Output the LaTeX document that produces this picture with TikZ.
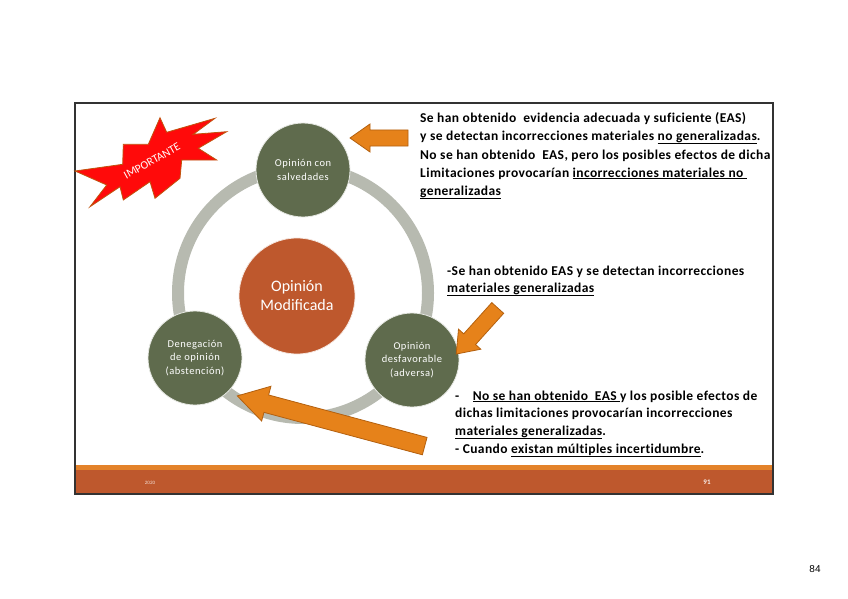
\documentclass[tikz,border=0pt]{standalone}
\usepackage{fontspec}
\setmainfont{Carlito}
\newfontfamily\arialf{Liberation Sans}
\newfontfamily\widef[LetterSpace=3,Ligatures=NoCommon]{Carlito}
\newfontfamily\bubf[LetterSpace=5,Ligatures=NoCommon]{Carlito}
\definecolor{olivec}{HTML}{5F6B4D}
\definecolor{rustc}{HTML}{BE582D}
\definecolor{ringc}{HTML}{B7BAB0}
\definecolor{arrowc}{HTML}{E6821A}
\definecolor{arrowd}{HTML}{B3600F}
\definecolor{footc}{HTML}{BE582D}
\definecolor{footl}{HTML}{E3822A}
\definecolor{starc}{HTML}{FF0A0A}
\definecolor{stard}{HTML}{C0540E}
\tikzset{
  x=1pt, y=-1pt,
  bubble/.style={circle, fill=olivec, draw=white!85!olivec, line width=0.8pt, minimum size=94pt, inner sep=0pt, text=white, align=center, font=\bubf\fontsize{10.5}{13.5}\selectfont},
  bigbubble/.style={circle, fill=rustc, draw=white!85!rustc, line width=0.8pt, minimum size=116pt, inner sep=0pt, text=white, align=center, font=\fontsize{16}{19}\selectfont},
  fatarrow/.style={fill=arrowc, draw=arrowd, line width=0.8pt, line join=miter},
  txt/.style={anchor=base west, inner sep=0pt, font=\widef\fontsize{13.5}{15}\selectfont\bfseries},
}
\begin{document}
\begin{tikzpicture}
\useasboundingbox (0,0) rectangle (848,599);
% slide frame
\fill[footc] (75,466) rectangle (773,494);
\fill[footl] (75,465) rectangle (773,470);
\draw[black!80, line width=1.2pt] (75,103) rectangle (773,494);
% ring
\draw[ringc, line width=12pt] (303,293) circle[radius=125pt];
% bubbles
\node[bubble] (top) at (303,170) {Opinión con\\salvedades};
\node[bigbubble] (mid) at (297,296) {Opinión\\Modificada};
\node[bubble] (left) at (195,358) {Denegación\\de opinión\\(abstención)};
\node[bubble] (right) at (412,360) {Opinión\\desfavorable\\(adversa)};
% starburst
\draw[fill=starc, draw=stard, line width=0.8pt, line join=miter]
 (75,171) -- (122.7,164.3) -- (123.3,144.3) -- (148.3,144.3) -- (160,117.7)
 -- (166.7,132.3) -- (215,118.3) -- (193.3,134.3) -- (226.7,131.7)
 -- (198.3,148.3) -- (216.7,160) -- (181.7,160) -- (180,178.3)
 -- (155,198.3) -- (150,181.7) -- (123.3,200) -- (120,186.7)
 -- (90,206.7) -- (106.7,185) -- cycle;
\node[text=white, rotate=29, font=\fontsize{11.5}{13}\selectfont] (imp) at (152,161) {IMPORTANTE};
% arrows
\draw[fatarrow, shift={(379,138)}, rotate=180]
 (-29,-8) -- (9,-8) -- (9,-14) -- (29,0) -- (9,14) -- (9,8) -- (-29,8) -- cycle;
\draw[fatarrow, shift={(477,331)}, rotate=228]
 (-31,-8) -- (11,-8) -- (11,-15) -- (31,0) -- (11,15) -- (11,8) -- (-31,8) -- cycle;
\draw[fatarrow, shift={(331,421)}, rotate=165]
 (-97,-9) -- (67,-9) -- (67,-18) -- (97,0) -- (67,18) -- (67,9) -- (-97,9) -- cycle;
% texts
\node[txt] (t1) at (420,122) {Se han obtenido\ \ evidencia adecuada y suficiente (EAS)};
\node[txt] (t2) at (420,140) {y se detectan incorrecciones materiales \underline{no generalizadas}.};
\node[txt] (t3) at (420,159) {No se han obtenido\ \ EAS, pero los posibles efectos de dicha};
\node[txt] (t4) at (420,177) {Limitaciones provocarían \underline{incorrecciones materiales no\ }};
\node[txt] (t5) at (420,195) {\underline{generalizadas}};
\node[txt] (u1) at (447,275) {-Se han obtenido EAS y se detectan incorrecciones};
\node[txt] (u2) at (447,292) {\underline{materiales generalizadas}};
\node[txt] (v1) at (455,400) {-\quad\underline{No se han obtenido\ \ EAS\ }y los posible efectos de};
\node[txt] (v2) at (455,417) {dichas limitaciones provocarían incorrecciones};
\node[txt] (v3) at (455,435) {\underline{materiales generalizadas}.};
\node[txt] (v4) at (455,453) {- Cuando \underline{existan múltiples incertidumbre}.};
% footer texts
\node[text=white!80!footc, font=\fontsize{5}{6}\selectfont] (yr) at (150,483) {2020};
\node[text=white!90!footc, font=\fontsize{7}{8}\selectfont\bfseries] (pg) at (707,482) {91};
\node[font=\arialf\fontsize{10}{12}\selectfont] (pn) at (815,569) {84};
\end{tikzpicture}
\end{document}
